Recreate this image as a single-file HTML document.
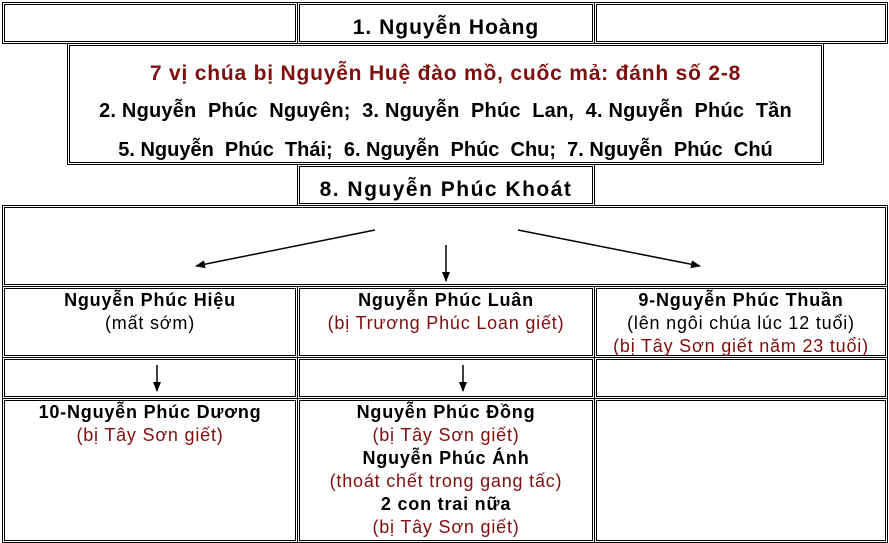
<!DOCTYPE html>
<html><head><meta charset="utf-8"><style>
body{margin:0;width:889px;height:539px;background:#fff;position:relative;overflow:hidden;font-family:"Liberation Sans",Arial,sans-serif;}
.b{position:absolute;box-sizing:border-box;border:3px double #000;background:#fff;text-align:center;}
.t{position:absolute;left:0;right:0;text-align:center;white-space:nowrap;}
.r{color:#7f0e0e;}
.big{font-weight:bold;font-size:21px;letter-spacing:1px;}
.c{font-size:18px;line-height:23px;padding-top:0px;letter-spacing:0.8px;white-space:nowrap;}
b{font-weight:bold;}
</style></head><body>
<div class="b" style="left:2px;top:2px;width:296px;height:42px"></div>
<div class="b big" style="left:297px;top:2px;width:298px;height:42px;line-height:46px">1. Nguyễn Hoàng</div>
<div class="b" style="left:594px;top:2px;width:294px;height:42px"></div>

<div class="b" style="left:67px;top:43px;width:757px;height:122px;font-weight:bold">
<div class="t r" style="top:16px;font-size:21px;letter-spacing:0.8px">7 vị chúa bị Nguyễn Huệ đào mồ, cuốc mả: đánh số 2-8</div>
<div class="t" style="top:54px;font-size:20px;letter-spacing:0.2px">2. Nguyễn&nbsp; Phúc&nbsp; Nguyên;&nbsp; 3. Nguyễn&nbsp; Phúc&nbsp; Lan,&nbsp; 4. Nguyễn&nbsp; Phúc&nbsp; Tần</div>
<div class="t" style="top:93px;font-size:20px;letter-spacing:0px">5. Nguyễn&nbsp; Phúc&nbsp; Thái;&nbsp; 6. Nguyễn&nbsp; Phúc&nbsp; Chu;&nbsp; 7. Nguyễn&nbsp; Phúc&nbsp; Chú</div>
</div>

<div class="b big" style="left:297px;top:164px;width:298px;height:42px;line-height:45px;letter-spacing:1.5px">8. Nguyễn Phúc Khoát</div>
<div class="b" style="left:2px;top:205px;width:886px;height:82px"></div>

<div class="b c" style="left:2px;top:286px;width:296px;height:72px"><b>Nguyễn Phúc Hiệu</b><br>(mất sớm)</div>
<div class="b c" style="left:297px;top:286px;width:298px;height:72px"><b>Nguyễn Phúc Luân</b><br><span class="r">(bị Trương Phúc Loan giết)</span></div>
<div class="b c" style="left:594px;top:286px;width:294px;height:72px"><b>9-Nguyễn Phúc Thuần</b><br>(lên ngôi chúa lúc 12 tuổi)<br><span class="r">(bị Tây Sơn giết năm 23 tuổi)</span></div>

<div class="b" style="left:2px;top:357px;width:296px;height:42px"></div>
<div class="b" style="left:297px;top:357px;width:298px;height:42px"></div>
<div class="b" style="left:594px;top:357px;width:294px;height:42px"></div>

<div class="b c" style="left:2px;top:398px;width:296px;height:145px"><b>10-Nguyễn Phúc Dương</b><br><span class="r">(bị Tây Sơn giết)</span></div>
<div class="b c" style="left:297px;top:398px;width:298px;height:145px"><b>Nguyễn Phúc Đồng</b><br><span class="r">(bị Tây Sơn giết)</span><br><b>Nguyễn Phúc Ánh</b><br><span class="r">(thoát chết trong gang tấc)</span><br><b>2 con trai nữa</b><br><span class="r">(bị Tây Sơn giết)</span></div>
<div class="b" style="left:594px;top:398px;width:294px;height:145px"></div>

<svg style="position:absolute;left:0;top:0" width="889" height="539">
<defs><marker id="a" markerWidth="10" markerHeight="8" refX="9" refY="4" orient="auto" markerUnits="userSpaceOnUse"><path d="M0,0L10,4L0,8z" fill="#000"/></marker></defs>
<g stroke="#000" stroke-width="1.5">
<line x1="375" y1="230" x2="196" y2="266" marker-end="url(#a)"/>
<line x1="446" y1="245" x2="446" y2="281" marker-end="url(#a)"/>
<line x1="518" y1="230" x2="700" y2="266" marker-end="url(#a)"/>
<line x1="157" y1="365" x2="157" y2="391" marker-end="url(#a)"/>
<line x1="463" y1="365" x2="463" y2="391" marker-end="url(#a)"/>
</g></svg>
</body></html>
